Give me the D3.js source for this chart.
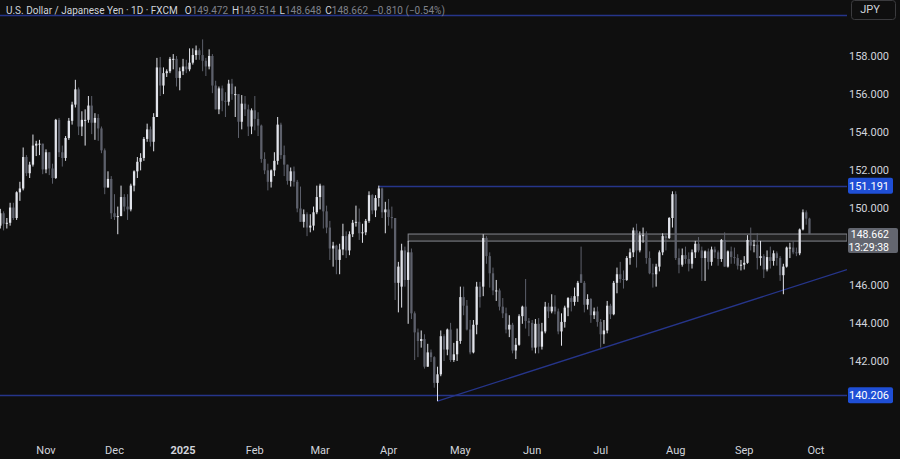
<!DOCTYPE html>
<html>
<head>
<meta charset="utf-8">
<script src="https://cdn.jsdelivr.net/npm/d3@7"></script>
<style>
  html, body { margin: 0; padding: 0; background: #0f0f0f; }
  svg { display: block; font-family: Roboto, "Noto Sans", sans-serif; }
</style>
</head>
<body>
<div id="chart"></div>
<script>

// daily bars (weekdays, FXCM has no bar on Dec 25 / Jan 1)
var firstDay = "2024-10-14";
var lastAxisDay = "2025-10-03";
var skipDays = ["2024-12-25", "2025-01-01"];

var opens = [
    149.10,149.75,149.20,149.25,150.05,149.50,150.85,151.05,152.70,151.85,
    152.30,153.30,153.40,153.40,152.05,152.95,152.10,151.60,154.65,152.95,
    152.65,153.70,154.60,155.45,156.25,154.30,154.65,154.65,155.40,154.50,
    154.75,154.20,153.05,151.10,151.55,149.75,149.55,149.60,150.60,150.10,
    149.95,151.20,151.95,152.45,152.65,153.65,154.15,153.50,154.80,157.40,
    156.45,157.10,157.20,157.85,157.85,156.85,157.20,157.45,157.30,157.65,
    158.05,158.30,158.05,157.75,157.45,158.00,156.45,155.20,156.30,155.65,
    155.60,156.55,156.00,156.00,154.55,155.50,155.20,154.30,155.15,154.70,
    154.35,152.60,152.00,151.40,152.00,152.50,154.40,152.80,152.30,151.45,
    151.95,151.40,150.00,149.30,149.70,149.00,149.10,149.80,150.60,151.20,
    149.85,149.00,147.90,148.05,147.30,147.85,148.55,147.80,148.65,149.25,
    149.30,148.70,148.75,149.35,150.70,149.90,150.55,151.05,149.80,149.95,
    149.55,149.50,146.10,145.90,147.80,146.25,147.70,144.50,143.50,143.05,
    143.15,141.70,142.45,142.20,140.85,141.30,143.30,142.60,143.65,142.05,
    142.35,143.05,145.35,144.90,143.65,142.45,143.90,145.90,145.90,148.45,
    147.50,146.60,145.70,145.70,144.85,144.50,143.65,143.90,142.55,142.85,
    144.35,144.85,144.10,144.00,142.70,143.95,142.75,143.55,144.85,144.60,
    144.85,144.60,143.55,144.05,144.80,145.30,145.10,145.40,146.55,146.10,
    144.95,145.25,144.40,144.60,144.05,143.40,143.60,144.90,144.45,146.10,
    146.55,146.30,146.25,147.40,147.70,148.85,147.80,148.60,148.60,147.40,
    146.60,146.55,146.95,147.70,148.55,148.45,149.50,150.75,147.40,147.05,
    147.55,147.35,147.10,147.70,148.15,147.80,147.40,147.75,147.20,147.85,
    147.70,147.35,148.35,146.95,147.75,147.45,147.40,147.00,147.05,147.15,
    148.35,148.05,148.10,147.40,147.50,146.80,147.45,147.25,147.65,147.40,
    146.50,146.95,147.95,147.95,147.70,147.65,148.90,149.80,149.472
];

var highs = [
    149.98,149.85,149.50,150.30,150.30,150.90,151.40,153.20,152.80,152.45,
    153.88,153.55,153.60,153.40,153.10,152.95,152.35,154.70,154.75,153.30,
    153.80,154.75,155.60,156.75,156.35,155.10,155.20,155.90,155.90,155.00,
    154.95,154.30,153.15,151.95,151.70,150.75,150.10,151.20,150.75,150.75,
    151.30,152.00,152.70,152.90,153.75,154.45,154.30,155.00,157.90,157.95,
    157.40,157.30,157.95,158.10,158.00,157.40,157.85,157.80,158.40,158.40,
    158.55,158.40,158.87,157.90,158.35,158.10,156.70,156.40,156.45,156.10,
    156.75,156.80,156.40,156.00,155.95,155.90,155.45,155.25,155.90,155.05,
    154.40,152.95,152.35,152.05,152.95,154.80,154.50,153.30,152.30,152.15,
    152.20,151.50,151.15,149.95,149.80,149.70,150.10,151.20,151.30,151.20,
    150.15,149.35,148.25,148.10,148.15,149.20,148.80,148.80,149.40,150.15,
    150.00,149.20,149.45,150.90,150.75,150.70,151.20,151.10,150.35,150.50,
    150.10,149.50,147.20,148.15,148.00,148.30,147.90,144.60,143.70,143.60,
    143.40,142.90,142.60,142.25,141.70,143.60,143.40,143.70,144.00,142.95,
    143.70,145.90,145.90,145.20,144.15,144.15,146.15,146.15,148.65,148.55,
    147.70,146.90,146.25,145.80,145.30,144.80,144.40,144.00,143.20,144.45,
    144.90,146.30,144.25,144.15,144.20,144.25,144.00,145.10,145.05,145.50,
    145.45,144.75,144.50,144.90,145.35,145.40,145.85,146.20,148.00,146.20,
    145.50,145.30,144.80,144.85,144.20,144.15,145.15,145.00,146.20,146.90,
    147.20,146.75,147.50,147.90,149.00,149.20,148.80,149.00,148.80,147.75,
    147.10,147.10,147.80,148.70,148.70,149.55,150.90,150.90,147.90,147.90,
    148.00,147.70,147.85,148.30,148.50,148.00,147.80,147.90,148.00,148.00,
    147.80,148.40,148.75,147.80,148.00,147.95,147.60,147.30,147.50,148.60,
    149.00,148.35,148.70,148.30,147.60,147.80,148.00,147.80,147.75,147.50,
    147.10,148.00,148.20,148.30,147.95,148.95,149.95,149.90,149.514
];

var lows = [
    148.95,148.85,148.95,149.10,149.40,149.40,150.40,150.95,151.70,151.60,
    152.20,152.75,152.80,151.80,151.85,151.75,151.30,151.55,152.70,152.20,
    152.50,153.60,154.40,155.30,153.85,153.80,153.30,154.50,153.90,153.60,
    153.55,152.90,150.75,151.10,149.45,149.40,148.65,149.60,149.85,149.40,
    149.85,150.90,151.60,152.00,152.50,153.50,153.25,153.00,154.80,155.90,
    156.00,156.90,157.10,157.30,156.40,156.20,157.00,157.10,157.20,157.55,
    157.80,157.80,157.20,156.95,157.30,156.05,155.20,154.95,155.10,154.80,
    155.40,155.70,154.80,153.70,154.15,154.85,153.80,153.90,154.10,153.80,
    152.40,151.80,150.95,151.10,151.70,152.30,152.60,151.70,151.25,151.15,
    151.15,149.80,149.30,149.00,148.55,148.75,148.85,149.70,149.95,148.95,
    148.70,147.30,146.95,146.55,146.55,147.55,147.40,147.55,148.50,149.05,
    148.35,148.20,148.60,149.25,149.70,149.55,150.10,149.50,148.70,149.10,
    148.95,145.20,144.55,144.80,145.90,143.95,144.20,142.05,142.20,142.70,
    141.60,141.70,141.95,140.60,139.89,141.20,142.00,142.30,141.95,141.95,
    142.00,142.90,144.40,143.60,142.35,142.40,143.40,144.80,145.40,147.10,
    145.85,145.45,145.15,144.65,144.25,143.45,143.25,142.40,142.10,142.80,
    143.95,143.70,143.30,142.55,142.40,142.40,142.60,143.45,144.25,144.50,
    144.45,143.40,142.80,143.75,144.35,144.60,144.90,145.10,146.10,144.55,
    144.70,144.00,144.20,143.80,142.70,142.90,143.45,144.20,144.40,145.55,
    146.10,145.80,146.20,147.05,147.45,146.90,147.70,148.20,147.10,146.55,
    145.85,145.90,146.70,147.55,147.80,148.40,149.00,147.30,146.60,146.95,
    147.10,146.70,146.85,147.40,147.70,146.20,146.20,146.80,147.00,147.40,
    147.00,147.20,146.95,146.90,147.10,147.10,146.80,146.75,146.80,147.10,
    147.80,147.70,146.80,147.00,146.35,146.70,146.85,147.00,147.00,146.20,
    145.50,146.90,147.40,147.60,147.50,147.55,148.85,149.15,148.648
];

var closes = [
    149.75,149.20,149.25,150.05,149.50,150.85,151.05,152.70,151.85,152.30,
    153.30,153.40,153.40,152.05,152.95,152.10,151.60,154.65,152.95,152.65,
    153.70,154.60,155.45,156.25,154.30,154.65,154.65,155.40,154.50,154.75,
    154.20,153.05,151.10,151.55,149.75,149.55,149.60,150.60,150.10,149.95,
    151.20,151.95,152.45,152.65,153.65,154.15,153.50,154.80,157.40,156.45,
    157.10,157.20,157.85,157.85,156.85,157.20,157.45,157.30,157.65,158.05,
    158.30,158.05,157.75,157.45,158.00,156.45,155.20,156.30,155.65,155.60,
    156.55,156.00,156.00,154.55,155.50,155.20,154.30,155.15,154.70,154.35,
    152.60,152.00,151.40,152.00,152.50,154.40,152.80,152.30,151.45,151.95,
    151.40,150.00,149.30,149.70,149.00,149.10,149.80,150.60,151.20,149.85,
    149.00,147.90,148.05,147.30,147.85,148.55,147.80,148.65,149.25,149.30,
    148.70,148.75,149.35,150.70,149.90,150.55,151.05,149.80,149.95,149.55,
    149.50,146.10,146.95,147.80,146.25,147.70,144.50,143.50,143.05,143.15,
    141.70,142.45,142.20,140.85,141.30,143.30,142.60,143.65,142.05,142.35,
    143.05,145.35,144.90,143.65,142.45,143.90,145.90,145.35,148.45,147.50,
    146.60,145.70,145.70,144.85,144.50,143.65,143.90,142.55,142.85,144.35,
    144.85,144.10,144.00,142.70,143.95,142.75,143.55,144.85,144.60,144.85,
    144.60,143.55,144.05,144.80,145.30,145.10,145.40,146.10,146.10,144.95,
    145.25,144.40,144.60,144.05,143.40,143.60,144.90,144.45,146.10,146.55,
    146.30,146.25,147.40,147.70,148.85,147.80,148.60,148.60,147.40,146.60,
    146.55,146.95,147.70,148.55,148.45,149.50,150.75,147.40,147.05,147.55,
    147.35,147.10,147.70,148.15,147.80,147.40,147.75,147.20,147.85,147.70,
    147.35,148.35,146.95,147.75,147.45,147.40,147.00,147.05,147.15,148.35,
    148.05,148.10,147.40,147.50,146.80,147.45,147.25,147.65,147.40,146.50,
    146.95,147.95,147.95,147.70,147.65,148.90,149.80,149.47,148.662
];

// price axis ticks (148 and 140 sit under the labels)
var priceTicks = [142, 144, 146, 150, 152, 154, 156, 158];

// drawn levels
var topLevel = 160.15;
var resistance = 151.191;
var resistanceFrom = "2025-03-27";
var support = 140.206;
var zoneTop = 148.66;
var zoneBottom = 148.29;
var zoneFrom = "2025-04-09";
var trendA = ["2025-04-22", 139.89];
var trendB = ["2025-09-17", 145.72];

// header
var symbolTitle = "U.S. Dollar / Japanese Yen · 1D · FXCM";
var lastPrice = 148.662;
var countdown = "13:29:38";
var change = "\u22120.810 (\u22120.54%)";

// size
var width = 900;
var height = 459;
var plotRight = 847;

var upColor = "#e1e3ea";
var downColor = "#5d606b";
var lineBlue = "#26358a";
var labelBlue = "#1f4fd6";
var textColor = "#d1d4dc";

// dates
var parseDay = d3.timeParse("%Y-%m-%d");
var fmtDay = d3.timeFormat("%Y-%m-%d");
var days = d3.timeDay.range(parseDay(firstDay), d3.timeDay.offset(parseDay(lastAxisDay), 1))
    .filter(d => d.getDay() != 0 && d.getDay() != 6 && skipDays.indexOf(fmtDay(d)) == -1);
var dayIndex = s => days.findIndex(d => fmtDay(d) == s);

// scales
var x = d3.scaleLinear()
    .domain([14, 250])
    .range([46, 816]);

var y = d3.scaleLinear()
    .domain([140, 158])
    .range([399.1, 56]);

var step = x(1) - x(0);
var bodyWidth = step * 0.7;

// svg
var svg = d3.select("#chart")
    .append("svg")
    .attr("width", width)
    .attr("height", height);

svg.append("rect")
    .attr("width", width)
    .attr("height", height)
    .attr("fill", "#0f0f0f");

var plot = svg.append("g")
    .attr("clip-path", "url(#plotClip)");

svg.append("clipPath")
    .attr("id", "plotClip")
    .append("rect")
    .attr("width", plotRight)
    .attr("height", height);

// zone box
plot.append("rect")
    .attr("x", x(dayIndex(zoneFrom)))
    .attr("y", y(zoneTop))
    .attr("width", plotRight - x(dayIndex(zoneFrom)))
    .attr("height", y(zoneBottom) - y(zoneTop))
    .attr("fill", "rgba(255,255,255,0.08)")
    .attr("stroke", "#85878e")
    .attr("stroke-width", 1);

// horizontal levels
function hLine(price, fromX) {
    plot.append("line")
        .attr("x1", fromX)
        .attr("x2", plotRight)
        .attr("y1", Math.round(y(price)) + 0.5)
        .attr("y2", Math.round(y(price)) + 0.5)
        .attr("stroke", lineBlue)
        .attr("stroke-width", 1.3);
}
hLine(topLevel, 0);
hLine(resistance, x(dayIndex(resistanceFrom)));
hLine(support, 0);

// trendline, extended to the right edge
var ta = [x(dayIndex(trendA[0])), y(trendA[1])];
var tb = [x(dayIndex(trendB[0])), y(trendB[1])];
var slope = (tb[1] - ta[1]) / (tb[0] - ta[0]);
plot.append("line")
    .attr("x1", ta[0])
    .attr("y1", ta[1])
    .attr("x2", plotRight)
    .attr("y2", ta[1] + slope * (plotRight - ta[0]))
    .attr("stroke", lineBlue)
    .attr("stroke-width", 1.3);

// candles
var bars = d3.range(closes.length).map(i => ({
    i: i, o: opens[i], h: highs[i], l: lows[i], c: closes[i]
}));

var candle = plot.append("g")
    .selectAll("g")
    .data(bars)
    .enter().append("g");

candle.append("line")
    .attr("x1", d => x(d.i))
    .attr("x2", d => x(d.i))
    .attr("y1", d => y(d.h))
    .attr("y2", d => y(d.l))
    .attr("stroke", d => d.c >= d.o ? upColor : downColor)
    .attr("stroke-width", 1);

candle.append("rect")
    .attr("x", d => x(d.i) - bodyWidth / 2)
    .attr("width", bodyWidth)
    .attr("y", d => y(Math.max(d.o, d.c)))
    .attr("height", d => Math.max(1, Math.abs(y(d.o) - y(d.c))))
    .attr("fill", d => d.c >= d.o ? upColor : downColor);

// price axis
var axisG = svg.append("g")
    .attr("font-size", 11)
    .attr("fill", textColor);

axisG.selectAll("text.tick")
    .data(priceTicks)
    .enter().append("text")
    .attr("class", "tick")
    .attr("x", 889)
    .attr("y", d => y(d))
    .attr("dy", "0.35em")
    .attr("text-anchor", "end")
    .text(d => d3.format(".3f")(d));

function blueLabel(price) {
    var yy = y(price);
    svg.append("rect")
        .attr("x", 848)
        .attr("y", yy - 8)
        .attr("width", 45)
        .attr("height", 16)
        .attr("rx", 2)
        .attr("fill", labelBlue);
    svg.append("text")
        .attr("x", 889)
        .attr("y", yy)
        .attr("dy", "0.35em")
        .attr("text-anchor", "end")
        .attr("font-size", 11)
        .attr("fill", "#ffffff")
        .text(d3.format(".3f")(price));
}
blueLabel(resistance);
blueLabel(support);

// last price label with countdown
var ly = y(lastPrice);
svg.append("rect")
    .attr("x", 848)
    .attr("y", ly - 6)
    .attr("width", 50)
    .attr("height", 25)
    .attr("rx", 2)
    .attr("fill", "#63666f");
svg.append("text")
    .attr("x", 889)
    .attr("y", ly + 0.6)
    .attr("dy", "0.35em")
    .attr("text-anchor", "end")
    .attr("font-size", 10.5)
    .attr("fill", "#ffffff")
    .text(d3.format(".3f")(lastPrice));
svg.append("text")
    .attr("x", 889)
    .attr("y", ly + 13)
    .attr("dy", "0.35em")
    .attr("text-anchor", "end")
    .attr("font-size", 10.5)
    .attr("fill", "#ffffff")
    .text(countdown);

// currency button
svg.append("rect")
    .attr("x", 851.5)
    .attr("y", 0.5)
    .attr("width", 44)
    .attr("height", 19)
    .attr("rx", 3)
    .attr("fill", "#0f0f0f")
    .attr("stroke", "#3b3b3e");
svg.append("text")
    .attr("x", 870)
    .attr("y", 9)
    .attr("dy", "0.35em")
    .attr("text-anchor", "middle")
    .attr("font-size", 11)
    .attr("fill", textColor)
    .text("JPY");

// time axis: first bar of every month
var monthTicks = days
    .map((d, i) => ({ d: d, i: i }))
    .filter(o => o.i > 0 && o.d.getMonth() != days[o.i - 1].getMonth());

svg.append("g")
    .selectAll("text")
    .data(monthTicks)
    .enter().append("text")
    .attr("x", d => x(d.i))
    .attr("y", 450)
    .attr("dy", "0.35em")
    .attr("text-anchor", "middle")
    .attr("font-size", 11)
    .attr("font-weight", d => d.d.getMonth() == 0 ? "bold" : "normal")
    .attr("fill", textColor)
    .text(d => d.d.getMonth() == 0 ? d3.timeFormat("%Y")(d.d) : d3.timeFormat("%b")(d.d));

// header legend
var last = bars[bars.length - 1];
var header = svg.append("text")
    .attr("x", 6)
    .attr("y", 10)
    .attr("dy", "0.35em")
    .attr("font-size", 10)
    .attr("fill", textColor);

header.append("tspan").text(symbolTitle);
[["O", last.o], ["H", last.h], ["L", last.l], ["C", last.c]].forEach(function(p, k) {
    header.append("tspan").attr("dx", k == 0 ? 7 : 4).text(p[0]);
    header.append("tspan").attr("fill", "#7f828b").text(d3.format(".3f")(p[1]));
});
header.append("tspan").attr("dx", 4).attr("fill", "#7f828b").text(change);

</script>
</body>
</html>
